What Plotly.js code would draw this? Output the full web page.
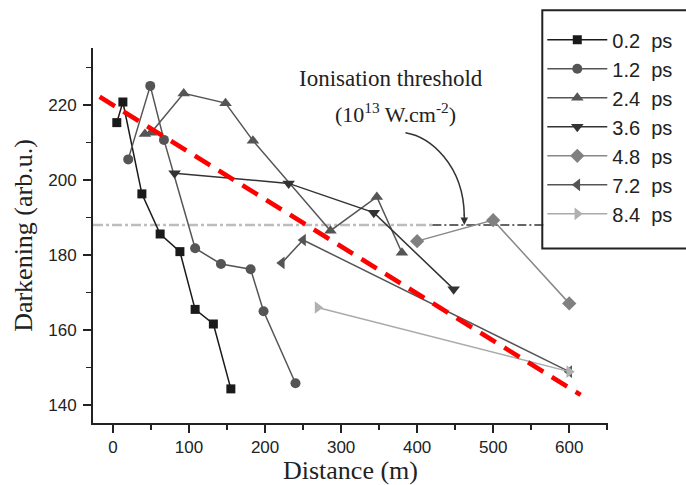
<!DOCTYPE html>
<html>
<head>
<meta charset="utf-8">
<script src="https://cdn.plot.ly/plotly-3.0.1.min.js"></script>
<style>html,body{margin:0;padding:0;background:#fff;}#chart{width:686px;height:485px;}</style>
</head>
<body>
<div id="chart"></div>
<script>
// ---- data ----
const seriesNames = ["0.2\u00a0\u00a0ps", "1.2\u00a0\u00a0ps", "2.4\u00a0\u00a0ps", "3.6\u00a0\u00a0ps", "4.8\u00a0\u00a0ps", "7.2\u00a0\u00a0ps", "8.4\u00a0\u00a0ps"];
const x02 = [5, 13, 38, 62, 88, 108, 132, 155];
const y02 = [215.3, 220.8, 196.3, 185.6, 180.9, 165.5, 161.6, 144.3];
const x12 = [20, 49, 67, 108, 142, 181, 198, 240];
const y12 = [205.5, 225.1, 210.7, 181.8, 177.6, 176.2, 165.0, 145.8];
const x24 = [42, 50, 93, 148, 184, 286, 347, 380];
const y24 = [212.3, 212.6, 223.1, 220.5, 210.5, 186.5, 195.5, 180.6];
const x36 = [81, 231, 343, 448];
const y36 = [201.8, 199.1, 191.3, 170.9];
const x48 = [400, 500, 600];
const y48 = [183.7, 189.3, 167.1];
const x72 = [222, 250, 600];
const y72 = [177.9, 184.0, 148.9];
const x84 = [269, 600];
const y84 = [166.0, 148.9];

// fitted trend (red dashed)
const trendX = [-17.6, 615];
const trendY = [222.2, 142.7];

// ionisation threshold
const thresholdY = 188;
const thresholdXLight = [-26.3, 420];
const thresholdXDark = [420, 566];

const xTicks = [0, 100, 200, 300, 400, 500, 600];
const yTicks = [140, 160, 180, 200, 220];

// ---- styles ----
const styles = [
  {sym: "square", mc: "#1a1a1a", lc: "#1a1a1a", size: 9},
  {sym: "circle", mc: "#555555", lc: "#555555", size: 10},
  {sym: "triangle-up", mc: "#555555", lc: "#555555", size: 11},
  {sym: "triangle-down", mc: "#333333", lc: "#333333", size: 11},
  {sym: "diamond", mc: "#808080", lc: "#888888", size: 11},
  {sym: "triangle-left", mc: "#555555", lc: "#555555", size: 11},
  {sym: "triangle-right", mc: "#b0b0b0", lc: "#aaaaaa", size: 11}
];
const xs = [x02, x12, x24, x36, x48, x72, x84];
const ys = [y02, y12, y24, y36, y48, y72, y84];

const traces = [];
traces.push({x: thresholdXLight, y: [thresholdY, thresholdY], mode: "lines", showlegend: false, hoverinfo: "skip",
  line: {color: "#bdbdbd", width: 2.5, dash: "10px,3px,3px,3px"}});
traces.push({x: thresholdXDark, y: [thresholdY, thresholdY], mode: "lines", showlegend: false, hoverinfo: "skip",
  line: {color: "#333333", width: 1.5, dash: "9px,3px,2px,3px"}});

for (let i = 0; i < seriesNames.length; i++) {
  traces.push({
    x: xs[i], y: ys[i], name: seriesNames[i], mode: "lines+markers",
    line: {color: styles[i].lc, width: 1.5},
    marker: {symbol: styles[i].sym, color: styles[i].mc, size: styles[i].size, line: {width: 0}}
  });
}
traces.push({x: trendX, y: trendY, mode: "lines", showlegend: false, hoverinfo: "skip",
  line: {color: "#ff0000", width: 4.5, dash: "18px,10px"}});

// curved arrow from the label to the threshold line
const arrowStart = [384.6, 212.6];
const arrowC1 = [417.5, 211.5];
const arrowC2 = [461, 204];
const arrowEnd = [462, 190.5];
const arrowPath = `M${arrowStart[0]},${arrowStart[1]} C${arrowC1[0]},${arrowC1[1]} ${arrowC2[0]},${arrowC2[1]} ${arrowEnd[0]},${arrowEnd[1]}`;

const serif = "Liberation Serif, Times New Roman, serif";
const sans = "Liberation Sans, Arial, sans-serif";

const layout = {
  width: 686, height: 485,
  margin: {l: 93, r: 78, t: 48, b: 62, autoexpand: false},
  paper_bgcolor: "#fff", plot_bgcolor: "#fff",
  showlegend: true,
  xaxis: {
    range: [-26.3, 651], tickvals: xTicks, ticktext: xTicks.map(String),
    showline: true, linecolor: "#222", linewidth: 2, ticks: "outside", ticklen: 8, tickwidth: 1.5, tickcolor: "#222",
    minor: {tickvals: [50, 150, 250, 350, 450, 550, 650], ticks: "outside", ticklen: 5, tickwidth: 1.5, tickcolor: "#222"},
    showgrid: false, zeroline: false,
    tickfont: {family: sans, size: 17, color: "#222"},
    title: {text: "Distance (m)", font: {family: serif, size: 26, color: "#222"}, standoff: 6}
  },
  yaxis: {
    range: [135.2, 235.2], tickvals: yTicks, ticktext: yTicks.map(String),
    showline: true, linecolor: "#222", linewidth: 2, ticks: "outside", ticklen: 8, tickwidth: 1.5, tickcolor: "#222",
    minor: {tickvals: [150, 170, 190, 210, 230], ticks: "outside", ticklen: 5, tickwidth: 1.5, tickcolor: "#222"},
    showgrid: false, zeroline: false,
    tickfont: {family: sans, size: 17, color: "#222"},
    ticklabelstandoff: 3,
    title: {text: "Darkening (arb.u.)", font: {family: serif, size: 26, color: "#222"}, standoff: 8}
  },
  legend: {
    x: 0.8724, y: 1.0739, xanchor: "left", yanchor: "top",
    borderwidth: 0, bgcolor: "rgba(0,0,0,0)",
    font: {family: sans, size: 20, color: "#222"},
    itemwidth: 60, tracegroupgap: 0
  },
  shapes: [
    {type: "path", xref: "x", yref: "y", path: arrowPath, line: {color: "#333", width: 1.5}},
    {type: "rect", xref: "paper", yref: "paper", x0: 0.8724, x1: 1.3, y0: 0.4651, y1: 1.1005,
     line: {color: "#222", width: 2}, fillcolor: "rgba(0,0,0,0)", layer: "above"}
  ],
  annotations: [
    {x: 366, y: 227.2, xref: "x", yref: "y", text: "Ionisation threshold", showarrow: false,
     font: {family: serif, size: 23, color: "#222"}},
    {x: 371.7, y: 217.9, xref: "x", yref: "y", text: "(10<sup>13</sup> W.cm<sup>-2</sup>)", showarrow: false,
     font: {family: serif, size: 22, color: "#222"}},
    {x: arrowEnd[0], y: thresholdY, xref: "x", yref: "y", text: "", showarrow: true,
     ax: 0, ay: -12, arrowhead: 2, arrowsize: 1, arrowwidth: 1.5, arrowcolor: "#333"}
  ]
};

Plotly.newPlot("chart", traces, layout, {staticPlot: true, displayModeBar: false});
</script>
</body>
</html>
